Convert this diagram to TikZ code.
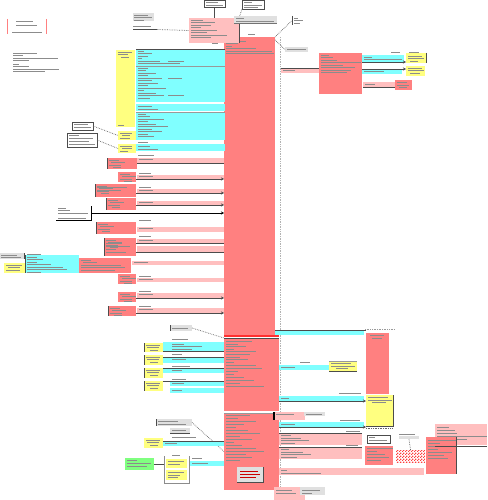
\documentclass[tikz,border=0pt]{standalone}
\usetikzlibrary{arrows.meta,patterns}
\definecolor{cR}{HTML}{FF8080}
\definecolor{cP}{HTML}{FFBFBF}
\definecolor{cC}{HTML}{80FFFF}
\definecolor{cY}{HTML}{FFFF80}
\definecolor{cG}{HTML}{80FF80}
\definecolor{cGr}{HTML}{E0E0E0}
\definecolor{cRL}{HTML}{FF3030}
\definecolor{cCk}{HTML}{FF4040}
\pgfdeclarepatternformonly{smallcheck}{\pgfpointorigin}{\pgfqpoint{3pt}{3pt}}{\pgfqpoint{3pt}{3pt}}{%
  \pgfpathrectangle{\pgfpointorigin}{\pgfqpoint{1.5pt}{1.5pt}}%
  \pgfpathrectangle{\pgfqpoint{1.5pt}{1.5pt}}{\pgfqpoint{1.5pt}{1.5pt}}%
  \pgfusepath{fill}}
\tikzset{
  base/.style={inner sep=0pt,outer sep=0pt},
  rbox/.style={base,fill=cR},
  pbox/.style={base,fill=cP},
  cbox/.style={base,fill=cC},
  ybox/.style={base,fill=cY},
  gnbox/.style={base,fill=cG},
  grbox/.style={base,fill=cGr},
  wbox/.style={base,fill=white,draw=black!70,line width=0.6pt},
  ckbox/.style={base,pattern=smallcheck,pattern color=cCk},
  tline/.style={line width=0.7pt,black!45,dash pattern=on 1.5pt off 0.5pt},
  dk/.style={line width=0.8pt,black!70},
  dots/.style={densely dotted,line width=0.7pt,black!60},
  arr/.style={-{Stealth[length=3pt,width=3pt]}},
}
\newcommand\bx[6]{\node[#2,anchor=north west,minimum width={(#5-#3)*1pt},minimum height={(#6-#4)*1pt}] (#1) at (#3,#4) {};}
\newcommand\txl[3]{\draw[tline] (#1,#2) -- ++(#3,0);}
\newcommand\shd[1]{\draw[dk] (#1.north east) -- (#1.south east) -- (#1.south west);}
\newcommand\lsh[1]{\draw[dk] (#1.north west) -- (#1.south west);}
\begin{document}
\begin{tikzpicture}[x=1pt,y=-1pt]
\useasboundingbox (0,0) rectangle (487,500);
% ---------- legend ----------
\coordinate (lgA1) at (7,19); \coordinate (lgA2) at (7,34);
\coordinate (lgB1) at (46,19); \coordinate (lgB2) at (46,34);
\draw[cR,line width=1pt] (lgA1) -- (lgA2);
\draw[cR,line width=1pt] (lgB1) -- (lgB2);
\txl{16}{21}{17}\txl{16}{25}{21}\txl{12}{32.5}{30}
\foreach \y/\l in {53/24,55.5/10,58/45,60.5/16,64/6,66.5/16,69/46,71.5/32} {\txl{13}{\y}{\l}}
% ---------- lifeline ----------
\coordinate (lt) at (280,37); \coordinate (lb) at (280,500);
\draw[dots,black!30] (lt) -- (lb);
% ---------- main column ----------
\bx{C1}{rbox}{224}{37}{275}{335}
\bx{C2}{rbox}{224}{338}{279}{411}
\bx{C3}{rbox}{224}{413}{279}{490}
\draw[cRL,line width=1.2pt] ([yshift=2pt]C2.north west) -- ([yshift=2pt]C2.north east);
\draw[dk] (C2.north west) -- (C2.north east);
\draw[black!40,line width=0.6pt] (C3.north west) -- (C3.north east);
\bx{Cg}{grbox}{237}{467}{263}{482}
\shd{Cg}
\foreach \y/\l in {471/18,474/20,477/16} {\draw[line width=0.7pt,red!80!black,dash pattern=on 1.5pt off 0.5pt] (240,\y) -- ++(\l,0);}
\foreach \y/\l in {38.5/8,41/20,43.5/12,46/6,48.5/30,51/46,53.5/48} {\txl{226}{\y}{\l}}
\foreach \y/\l in {341/26,344/12,346.5/20,349/8,351.5/30,354/24,357/14,359.5/22,362/8,365/30,368/36,371/12,374/8,377/18,380/28,383/14,386/38} {\txl{226}{\y}{\l}}
\foreach \y/\l in {415/24,418/12,421/30,424/18,427/10,430/22,433/34,436/14,439/26,442/8,445/16,448/30,451/38,454/20,457/26,460/14} {\txl{226}{\y}{\l}}
% ---------- top header ----------
\bx{H}{pbox}{189}{18}{239}{43}
\draw[dk] (H.north east) -- (H.south east);
\foreach \y/\l in {20/12,22.5/24,25/20,27.5/10,30/26,32.5/16,35/36,37.5/20} {\txl{191}{\y}{\l}}
\bx{TA}{wbox}{204}{0}{225}{7}
\txl{206}{2.5}{12}\txl{206}{5}{17}
\bx{TB}{wbox}{242}{0}{264}{9}
\txl{244}{2.5}{8}\txl{244}{5}{18}\txl{244}{7.5}{14}
\draw[dk] (TA.south) -- (TA.south |- H.north);
\draw[dots] (TB.south west) -- (H.north east);
\bx{G1}{grbox}{234}{16}{277}{23}
\draw[black!55,line width=0.6pt] (G1.south west) -- (G1.south east);
\txl{236}{18}{8}\txl{236}{21}{38}
\bx{TG}{grbox}{133}{13}{154}{21}
\txl{134}{15}{14}\txl{134}{17.5}{18}\txl{134}{20}{10}
\txl{133}{26}{18}
\coordinate (tgx) at (157,29.5);
\draw[dk] (133,29.5) -- (tgx);
\draw[dots] (tgx) -- (H.west);
\txl{212}{43.5}{6}\txl{248}{34.5}{7}
\bx{R1}{base}{292}{16}{303}{25}
\lsh{R1}
\txl{294}{18}{4}\txl{294}{20.5}{9}\txl{294}{23}{6}
\draw[dots] (C1.north east) -- (R1.west);
\bx{GT}{grbox}{285}{47}{308}{52}
\txl{287}{49.5}{19}
\draw[dots] ([yshift=-3pt]C1.north east) -- (GT.west);
% ---------- left cyan block ----------
\bx{Y1}{ybox}{116}{50}{135}{127}
\txl{118}{52}{14}\txl{118}{54.5}{10}\txl{121}{57}{8}\txl{118}{125}{6}
\bx{Cy1}{cbox}{136}{49}{225}{102}
\draw[dk] (Cy1.north west) -- (Cy1.north east);
\draw[black!40,line width=0.6pt] (136,66) -- (225,66);
\foreach \y/\l in {51/6,53.5/14,56/10,58.5/4,61/22,63.5/30,68/10,70.5/8,73/18,75.5/10,78/24,80.5/14,83/20,85.5/10,88/28,90.5/6,93/18,95.5/26,98/12} {\txl{138}{\y}{\l}}
\foreach \y/\l in {61/16,63.5/12,78/14,95.5/16} {\txl{168}{\y}{\l}}
\bx{Cy2}{cbox}{136}{104}{225}{111}
\txl{138}{106}{14}\txl{138}{109}{20}
\bx{Cy3}{cbox}{136}{112}{225}{140}
\draw[black!40,line width=0.6pt] (Cy3.north west) -- (Cy3.north east);
\foreach \y/\l in {114/8,116.5/12,119/26,121.5/10,124/18,126.5/30,129/14,131.5/24,134/10,136.5/16} {\txl{138}{\y}{\l}}
\bx{Cy4}{cbox}{136}{144}{225}{151}
\txl{138}{146}{12}\txl{138}{149}{20}
\txl{138}{142}{10}\txl{138}{155}{16}
\bx{Y2}{ybox}{118}{131}{136}{140}
\txl{120}{133}{12}\txl{122}{135.5}{8}\txl{120}{138}{10}
\bx{Y3}{ybox}{118}{144}{136}{153}
\txl{120}{146}{12}\txl{122}{148.5}{10}\txl{120}{151}{8}
\bx{W1}{wbox}{72}{122}{93}{130}
\txl{74}{124.5}{14}\txl{74}{127.5}{17}
\bx{W2}{wbox}{67}{133}{97}{147}
\txl{69}{135.5}{10}\txl{69}{138.5}{24}\txl{69}{141.5}{20}\txl{69}{144.5}{26}
\draw[dots] (W1.east) -- (Y2.west);
\draw[dots] (W2.east) -- (Y3.west);
% ---------- left red boxes with bars ----------
\bx{L1}{rbox}{107}{158}{137}{169}
\bx{b1}{pbox}{137}{158}{224}{163}
\bx{L2}{rbox}{118}{172}{136}{182}
\bx{b2}{pbox}{137}{175}{224}{179}
\bx{L3}{rbox}{95}{184}{136}{197}
\bx{b3}{pbox}{137}{189}{224}{193}
\bx{L4}{rbox}{106}{198}{136}{210}
\bx{b4}{pbox}{137}{201}{224}{205}
\bx{W5}{base}{56}{206}{91}{220}
\draw[line width=1pt] (W5.north east) -- (W5.south east) -- (W5.south west);
\txl{58}{208}{8}\txl{58}{210.5}{12}\txl{58}{213}{30}\txl{58}{218}{28}
\bx{L6}{rbox}{96}{222}{136}{234}
\bx{b6}{pbox}{137}{227}{224}{232}
\bx{L7}{rbox}{104}{238}{136}{256}
\bx{b7a}{pbox}{137}{239}{224}{243}
\bx{b7b}{pbox}{137}{246}{224}{252}
\bx{L8g}{grbox}{0}{253}{24}{259}
\bx{L8y}{ybox}{4}{263}{25}{273}
\bx{L8c}{cbox}{25}{255}{79}{273}
\bx{L8}{rbox}{79}{258}{131}{273}
\bx{b8}{pbox}{132}{261}{224}{265}
\bx{L9}{rbox}{118}{274}{136}{284}
\bx{b9}{pbox}{137}{278}{224}{282}
\bx{L10}{rbox}{118}{292}{136}{302}
\bx{b10}{pbox}{137}{293}{224}{298}
\bx{L11}{rbox}{108}{306}{136}{316}
\bx{b11}{pbox}{137}{308}{224}{313}
\foreach \n in {L1,L3,L4,L6,L7,L11} {\lsh{\n}}
\draw[dk] (L1.east |- b1.south) -- (C1.west |- b1.south);
\draw[dk,arr] (L2.east |- b2.south) -- (C1.west |- b2.south);
\draw[dk,arr] (L3.east |- b3.south) -- (C1.west |- b3.south);
\draw[dk,arr] (L4.east |- b4.south) -- (C1.west |- b4.south);
\draw[line width=1pt,arr] (W5.east) -- (C1.west |- W5.east);
\draw[dk] (L7.east |- b7a.south) -- (C1.west |- b7a.south);
\draw[dk] (L7.east |- b7b.south) -- (C1.west |- b7b.south);
\draw[dk,arr] (L10.east |- b10.south) -- (C1.west |- b10.south);
\draw[dk,arr] (L11.east |- b11.south) -- (C1.west |- b11.south);
\draw[dk] (L8c.north west) -- (L8c.south west);
\draw[dk] (L8g.north east) -- (L8g.south east);
% red box text
\foreach \n/\x/\y in {L1/109/160,L2/120/174,L3/97/186,L4/108/200,L6/98/224,L7/106/240,L8/81/260,L9/120/276,L10/120/294,L11/110/308} {
  \txl{\x}{\y}{10}\txl{\x+2}{\y+2.5}{14}\txl{\x}{\y+5}{12}\txl{\x+4}{\y+7.5}{8}}
\foreach \y/\l in {187.5/30,190/24} {\txl{97}{\y}{\l}}
\foreach \y/\l in {243/16,246/24,249/10,252/20} {\txl{106}{\y}{\l}}
\foreach \y/\l in {265/40,267.5/44,270/34} {\txl{81}{\y}{\l}}
\foreach \y/\l in {257/10,259.5/16,262/10,264.5/24,267/36,269.5/40,272/14} {\txl{27}{\y}{\l}}
\txl{6}{265}{16}\txl{8}{267.5}{12}\txl{6}{270}{14}
\txl{1}{255}{16}\txl{1}{257.5}{20}
\txl{27}{254}{14}
% bar text
\foreach \b in {b1,b2,b3,b4,b6,b7a,b8,b9,b10,b11} {\draw[tline] ([xshift=2pt,yshift=-1.5pt]\b.north west) -- ++(14,0);}
\foreach \y in {173,187,220,236,276,291,306} {\txl{139}{\y}{12}}
% ---------- right top ----------
\bx{RB1}{rbox}{319}{53}{362}{94}
\bx{P0}{pbox}{281}{68}{319}{73}
\draw[dk] (P0.north west) -- (RB1.west |- P0.north);
\txl{283}{70.5}{12}
\foreach \y/\l in {55/8,57.5/12,60/16,62.5/40,65/22,67.5/34,70/30,72.5/26} {\txl{321}{\y}{\l}}
\bx{Cr1}{cbox}{362}{55}{404}{62}
\bx{Yr1}{ybox}{406}{53}{426}{63}
\draw[dk] (Yr1.north east) -- (Yr1.south east);
\draw[dk,arr] (Cr1.south west) -- (Yr1.west |- Cr1.south);
\txl{364}{57}{8}\txl{364}{59.5}{38}
\bx{Cr2}{cbox}{362}{69}{402}{74}
\bx{Yr2}{ybox}{406}{66}{425}{76}
\draw[dk,arr] (Cr2.north west) -- (Yr2.west |- Cr2.north);
\txl{364}{71.5}{20}
\bx{Pr3}{pbox}{363}{82}{396}{87}
\bx{RB2}{rbox}{395}{80}{412}{90}
\draw[dk] (Pr3.south west) -- (RB2.west |- Pr3.south);
\txl{365}{84}{10}\txl{397}{82.5}{10}\txl{397}{85}{12}\txl{399}{87.5}{8}
\txl{391}{52.5}{9}\txl{409}{52}{10}
\txl{408}{56}{14}\txl{408}{58.5}{16}\txl{410}{61}{8}
\txl{408}{68}{14}\txl{408}{70.5}{16}\txl{410}{73}{10}
% ---------- middle band ----------
\bx{SG}{grbox}{170}{325}{192}{331}
\draw[dk] (SG.north west) -- (SG.south west);
\txl{172}{328}{16}
\draw[dots] (SG.east) -- (C2.north west);
\bx{CT}{cbox}{275}{330}{364}{335}
\bx{RT}{rbox}{366}{333}{389}{394}
\draw[dk] (CT.north west) -- (RT.west |- CT.north);
\coordinate (ctd1) at (365,329); \coordinate (ctd2) at (394,329);
\draw[dots,black!40] (ctd1) -- (ctd2);
\txl{370}{335.5}{14}\txl{372}{338}{10}
% ---------- left of C2 ----------
\bx{Yl1}{ybox}{144}{343}{163}{352}
\bx{Yl2}{ybox}{144}{355}{163}{365}
\bx{Yl3}{ybox}{144}{368}{163}{378}
\bx{Yl4}{ybox}{144}{381}{163}{391}
\bx{cb1}{cbox}{163}{342}{224}{351}
\bx{cb2}{cbox}{163}{357}{224}{363}
\bx{cb3}{cbox}{163}{368}{224}{373}
\bx{cb4}{cbox}{170}{381}{224}{386}
\bx{cb5}{cbox}{170}{388}{224}{393}
\draw[dk] (Yl1.east |- cb1.south) -- (C2.west |- cb1.south);
\draw[dk] (Yl2.east |- cb2.north) -- (C2.west |- cb2.north);
\draw[dk] (Yl3.east |- cb3.north) -- (C2.west |- cb3.north);
\draw[dk] (Yl4.east |- cb4.north) -- (C2.west |- cb4.north);
\foreach \n in {Yl1,Yl2,Yl3,Yl4} {\lsh{\n}}
\foreach \n/\y in {Yl1/345,Yl2/357,Yl3/370,Yl4/383} {\txl{146}{\y}{14}\txl{147}{\y+2.5}{12}\txl{150}{\y+5}{8}}
\foreach \y/\l in {344/12,346.5/30,349/20,359.5/14,370.5/10,383.5/12,390.5/10} {\txl{172}{\y}{\l}}
\foreach \y/\l in {339/16,354/10,366/18,379/14} {\txl{172}{\y}{\l}}
% ---------- right of C2 ----------
\bx{cr1}{cbox}{279}{365}{329}{370}
\bx{YR1}{ybox}{329}{361}{357}{371}
\draw[dk] (YR1.south west) -- (YR1.south east);
\draw[black!40,line width=0.6pt] (YR1.north west) -- (YR1.north east);
\txl{331}{363.5}{20}\txl{331}{366}{24}\txl{336}{368.5}{12}
\txl{281}{367.5}{14}\txl{300}{362.5}{10}
\bx{cr2}{cbox}{279}{396}{364}{401}
\bx{YR2}{ybox}{366}{395}{393}{426}
\shd{YR2}
\draw[dk,arr] (cr2.south west) -- (YR2.west |- cr2.south);
\txl{281}{398.5}{8}\txl{339}{393.5}{22}
\txl{368}{397.5}{20}\txl{368}{400}{24}\txl{372}{402.5}{14}
\coordinate (yd1) at (366,428.5); \coordinate (yd2) at (393,428.5);
\draw[dots] (yd1) -- (yd2);
% ---------- right of C3 ----------
\bx{PB1}{pbox}{274}{412}{305}{420}
\draw[line width=1.2pt] (PB1.north west) -- (PB1.south west);
\bx{GB3}{grbox}{304}{412}{325}{416}
\txl{276}{414.5}{18}\txl{306}{414}{16}
\bx{cr3}{cbox}{279}{422}{364}{427}
\draw[dk,arr] (cr3.south west) -- (YR2.west |- cr3.south);
\txl{281}{424.5}{14}\txl{340}{420}{20}
\bx{pr1}{pbox}{279}{433}{362}{445}
\bx{pr2}{pbox}{279}{447}{362}{459}
\bx{pr3}{pbox}{279}{468}{424}{475}
\draw[dk] (pr1.north west) -- (pr1.north east);
\draw[dk] (pr2.north west) -- (pr2.north east);
\foreach \y/\l in {435.5/10,438/20,440.5/28,443/14} {\txl{281}{\y}{\l}}
\foreach \y/\l in {449.5/8,452/22,454.5/30,457/16} {\txl{281}{\y}{\l}}
\txl{281}{470.5}{6}\txl{281}{473}{40}
\txl{346}{431}{14}\txl{346}{445.5}{12}
\bx{WB}{wbox}{367}{435}{390}{443}
\txl{369}{437.5}{6}\txl{369}{440.5}{18}
\bx{RB3}{rbox}{365}{446}{393}{465}
\foreach \y/\l in {448/26,451/10,454/18,457/22,460/14} {\txl{367}{\y}{\l}}
\bx{GB4}{grbox}{399}{436}{419}{439}
\txl{399}{434}{16}
\bx{CK}{ckbox}{396}{450}{425}{462}
\draw[dots] (GB4.south) -- (CK.north);
\bx{LP}{pbox}{435}{424}{487}{445}
\foreach \y/\l in {427/12,430/18,433/20,436/50,439/30} {\txl{437}{\y}{\l}}
\bx{RB4}{rbox}{426}{437}{456}{474}
\draw[dk] (RB4.north east) -- (RB4.south east);
\foreach \y/\l in {440/28,443/12,446/18,449/10,452/24,455/16,458/20} {\txl{428}{\y}{\l}}
\draw[dk] (LP.south west |- 0,446) -- (LP.south east |- 0,446);
\bx{PB2}{pbox}{274}{487}{305}{500}
\bx{GB5}{grbox}{300}{487}{325}{495}
\txl{276}{490}{16}\txl{276}{493}{20}\txl{302}{490}{18}\txl{302}{493}{10}
% ---------- left of C3 ----------
\bx{GB1}{grbox}{156}{419}{192}{426}
\draw[dk] (GB1.north west) -- (GB1.south west);
\txl{158}{421}{20}\txl{158}{424}{28}
\bx{GB2}{grbox}{170}{428}{190}{433}
\draw[dk] (GB2.south west) -- (GB2.south east);
\txl{172}{430.5}{14}
\draw[dots] (GB1.east) -- (C3.west);
\bx{Yl5}{ybox}{144}{438}{163}{448}
\bx{cb6}{cbox}{163}{441}{224}{446}
\draw[dk] (Yl5.east |- cb6.north) -- (C3.west |- cb6.north);
\txl{146}{440}{14}\txl{147}{442.5}{12}\txl{150}{445}{8}
\txl{172}{437.5}{24}\txl{165}{443.5}{12}
\bx{Gn}{gnbox}{125}{458}{154}{470}
\txl{127}{460}{10}\txl{127}{463}{24}\txl{127}{466}{20}
\bx{Fr}{base}{164}{456}{189}{483}
\draw[black!45,line width=0.6pt] (Fr.north west) -- (Fr.south west) -- (Fr.south east) -- (Fr.north east);
\bx{Yf1}{ybox}{166}{459}{187}{468}
\bx{Yf2}{ybox}{166}{470}{187}{480}
\txl{168}{461.5}{16}\txl{168}{464}{12}\txl{168}{472.5}{16}\txl{168}{475}{12}\txl{168}{477.5}{10}
\txl{172}{455}{8}
\draw[dk] (Gn.east) -- (Gn.east -| Fr.west);
\bx{cb7}{cbox}{190}{461}{224}{466}
\txl{192}{458}{10}\txl{192}{463.5}{16}
\end{tikzpicture}
\end{document}
